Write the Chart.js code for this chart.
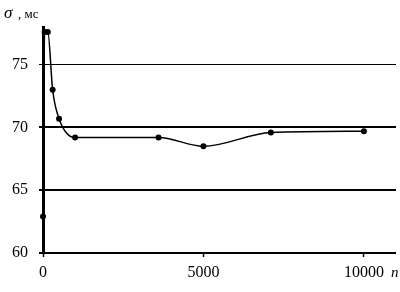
<!DOCTYPE html>
<html lang="ru">
<head>
  <meta charset="UTF-8">
  <title>σ vs n</title>
  <script src="https://cdn.jsdelivr.net/npm/chart.js"></script>
  <style>
    html, body {
      margin: 0;
      padding: 0;
      background: #fff;
    }
    .chart-container {
      width: 400px;
      height: 292px;
      position: relative;
    }
  </style>
</head>
<body>
  <div class="chart-container">
    <canvas id="sigmaChart"></canvas>
  </div>

<script>
  const nValues = [0, 50, 150, 300, 500, 1000, 3600, 5000, 7100, 10000];
  const sigmaValues = [62.9, 77.6, 77.6, 73.0, 70.7, 69.2, 69.2, 68.5, 69.6, 69.7];
  const yTicks = [60, 65, 70, 75];
  const xTicks = [0, 5000, 10000];

  const serif = "'Liberation Serif', 'DejaVu Serif', serif";

  // baseline at σ = 60 and axis captions (σ, мс / n)
  const extras = {
    id: 'extras',
    beforeDatasetsDraw(chart) {
      const c = chart.ctx;
      const y = Math.round(chart.scales.y.getPixelForValue(yTicks[0])) - 0.5;
      c.save();
      c.strokeStyle = '#000';
      c.lineWidth = 1;
      c.beginPath();
      c.moveTo(chart.chartArea.left - 4, y);
      c.lineTo(chart.chartArea.right, y);
      c.stroke();
      c.restore();
    },
    afterDraw(chart) {
      const c = chart.ctx;
      c.save();
      c.fillStyle = '#000';
      c.textBaseline = 'alphabetic';
      c.font = `italic 17px ${serif}`;
      c.fillText('σ', 4, 18);
      c.font = `13px ${serif}`;
      c.fillText(', мс', 18, 18);
      c.font = `italic 15px ${serif}`;
      c.fillText('n', 391, 277);
      c.restore();
    }
  };

  const ctx = document.getElementById('sigmaChart').getContext('2d');

  new Chart(ctx, {
    type: 'line',
    data: {
      datasets: [{
        data: nValues.map((n, i) => ({ x: n, y: sigmaValues[i] })),
        borderColor: '#000',
        backgroundColor: '#000',
        borderWidth: 1.5,
        cubicInterpolationMode: 'monotone',
        pointRadius: 3,
        pointBackgroundColor: '#000',
        pointBorderWidth: 0,
        clip: false,
        fill: false
      }]
    },
    plugins: [extras],
    options: {
      responsive: true,
      maintainAspectRatio: false,
      animation: false,
      layout: { padding: { top: 27, right: 3, left: 0, bottom: 0 } },
      plugins: {
        legend: { display: false },
        tooltip: { enabled: false }
      },
      scales: {
        x: {
          type: 'linear',
          min: 0,
          max: 11000,
          afterBuildTicks: s => { s.ticks = xTicks.map(v => ({ value: v })); },
          afterFit: s => { s.height = 39; },
          ticks: {
            color: '#000',
            padding: 6,
            maxRotation: 0,
            callback: v => String(v),
            font: { family: serif, size: 16 }
          },
          grid: {
            drawOnChartArea: false,
            drawTicks: true,
            tickLength: 4,
            tickWidth: 1.5,
            tickColor: '#000'
          },
          border: { display: false }
        },
        y: {
          min: 60,
          max: 78,
          afterBuildTicks: s => { s.ticks = yTicks.map(v => ({ value: v })); },
          afterFit: s => { s.width = 43; },
          ticks: {
            color: '#000',
            padding: 11,
            font: { family: serif, size: 16 }
          },
          grid: {
            color: '#000',
            lineWidth: c => (c.tick && (c.tick.value === 65 || c.tick.value === 70)) ? 2 : 1,
            tickLength: 4
          },
          border: { display: true, color: '#000', width: 3 }
        }
      }
    }
  });
</script>
</body>
</html>
